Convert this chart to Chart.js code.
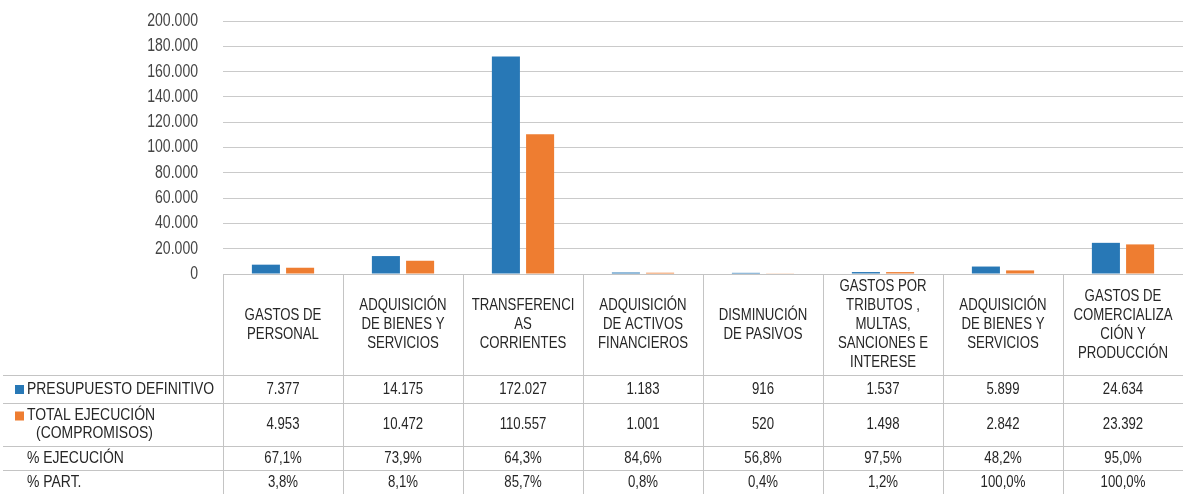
<!DOCTYPE html>
<html>
<head>
<meta charset="utf-8">
<script src="https://cdn.jsdelivr.net/npm/chart.js@4.4.1/dist/chart.umd.min.js"></script>
<style>
  html, body { margin: 0; padding: 0; background: #fff; }
  #wrap { width: 1183px; height: 494px; }
</style>
</head>
<body>
<div id="wrap"><canvas id="chart"></canvas></div>
<script>
// categories (as wrapped in the original table header)
const categories = [
  ['GASTOS DE', 'PERSONAL'],
  ['ADQUISICIÓN', 'DE BIENES Y', 'SERVICIOS'],
  ['TRANSFERENCI', 'AS', 'CORRIENTES'],
  ['ADQUISICIÓN', 'DE ACTIVOS', 'FINANCIEROS'],
  ['DISMINUCIÓN', 'DE PASIVOS'],
  ['GASTOS POR', 'TRIBUTOS ,', 'MULTAS,', 'SANCIONES E', 'INTERESE'],
  ['ADQUISICIÓN', 'DE BIENES Y', 'SERVICIOS'],
  ['GASTOS DE', 'COMERCIALIZA', 'CIÓN Y', 'PRODUCCIÓN']
];
const presupuesto = [7377, 14175, 172027, 1183, 916, 1537, 5899, 24634];
const ejecucion = [4953, 10472, 110557, 1001, 520, 1498, 2842, 23392];
const pctEjecucion = ['67,1%', '73,9%', '64,3%', '84,6%', '56,8%', '97,5%', '48,2%', '95,0%'];
const pctPart = ['3,8%', '8,1%', '85,7%', '0,8%', '0,4%', '1,2%', '100,0%', '100,0%'];
const rowLabels = [['PRESUPUESTO DEFINITIVO'], ['TOTAL EJECUCIÓN', '(COMPROMISOS)'], ['% EJECUCIÓN'], ['% PART.']];

const blue = '#2878b6';
const orange = '#ee7d31';
const font = '"Liberation Sans", Arial, sans-serif';

function fmt(v) {
  return v.toString().replace(/\B(?=(\d{3})+(?!\d))/g, '.');
}

// narrow text like Arial Narrow: squeeze horizontally
function narrowText(ctx, t, x, y, sx) {
  ctx.save();
  ctx.translate(x, y);
  ctx.scale(sx, 1);
  ctx.fillText(t, 0, 0);
  ctx.restore();
}

const tablePlugin = {
  id: 'dataTable',
  afterDraw(chart) {
    const { ctx, chartArea: a, scales: { x, y } } = chart;
    const colW = (a.right - a.left) / categories.length;
    const rowTops = [375, 403, 446, 470, 494];
    ctx.save();

    // y axis labels
    ctx.fillStyle = '#444';
    ctx.font = '18px ' + font;
    ctx.textAlign = 'right';
    ctx.textBaseline = 'middle';
    y.ticks.forEach(tk => narrowText(ctx, fmt(tk.value), 198, y.getPixelForValue(tk.value), 0.78));

    ctx.strokeStyle = '#c4c4c4';
    ctx.lineWidth = 1;
    for (let i = 0; i <= categories.length; i++) {
      const px = Math.round(a.left + i * colW) + 0.5;
      ctx.beginPath();
      ctx.moveTo(px, a.bottom);
      ctx.lineTo(px, 494);
      ctx.stroke();
    }
    rowTops.slice(0, 4).forEach(yy => {
      ctx.beginPath();
      ctx.moveTo(3, yy + 0.5);
      ctx.lineTo(a.right, yy + 0.5);
      ctx.stroke();
    });

    ctx.fillStyle = '#262626';
    ctx.textAlign = 'center';
    ctx.font = '16.5px ' + font;
    const sx = 0.8;
    const headMid = (a.bottom + rowTops[0]) / 2;
    categories.forEach((lines, i) => {
      const cx = x.getPixelForValue(i);
      const y0 = headMid - (lines.length - 1) * 19 / 2;
      lines.forEach((t, j) => narrowText(ctx, t, cx, y0 + j * 19, sx));
    });
    const rows = [presupuesto.map(fmt), ejecucion.map(fmt), pctEjecucion, pctPart];
    rows.forEach((vals, r) => {
      const cy = (rowTops[r] + rowTops[r + 1]) / 2;
      vals.forEach((t, i) => narrowText(ctx, t, x.getPixelForValue(i), cy, sx));
    });
    ctx.textAlign = 'left';
    ctx.font = '17px ' + font;
    rowLabels.forEach((lines, r) => {
      const cy = (rowTops[r] + rowTops[r + 1]) / 2;
      const y0 = cy - (lines.length - 1) * 18 / 2;
      if (r < 2) {
        ctx.fillStyle = r === 0 ? blue : orange;
        ctx.fillRect(15, y0 - 4, 9, 9);
      }
      ctx.fillStyle = '#262626';
      lines.forEach((t, j) => narrowText(ctx, t, j === 0 ? 27 : 36, y0 + j * 18, 0.82));
    });
    ctx.restore();
  }
};

new Chart(document.getElementById('chart'), {
  type: 'bar',
  data: {
    labels: categories,
    datasets: [
      { label: 'PRESUPUESTO DEFINITIVO', data: presupuesto, backgroundColor: blue },
      { label: 'TOTAL EJECUCIÓN (COMPROMISOS)', data: ejecucion, backgroundColor: orange }
    ]
  },
  options: {
    responsive: true,
    maintainAspectRatio: false,
    animation: false,
    categoryPercentage: 0.57,
    barPercentage: 0.82,
    layout: { padding: { top: 21, bottom: 220, left: 0, right: 0 } },
    plugins: { legend: { display: false }, tooltip: { enabled: false } },
    scales: {
      x: {
        ticks: { display: false },
        grid: { display: false, drawTicks: false },
        border: { color: '#c4c4c4' }
      },
      y: {
        min: 0,
        max: 200000,
        afterFit(axis) { axis.width = 223; },
        ticks: { display: false, stepSize: 20000 },
        grid: { color: '#cacaca', drawTicks: false },
        border: { display: false }
      }
    }
  },
  plugins: [tablePlugin]
});
</script>
</body>
</html>
